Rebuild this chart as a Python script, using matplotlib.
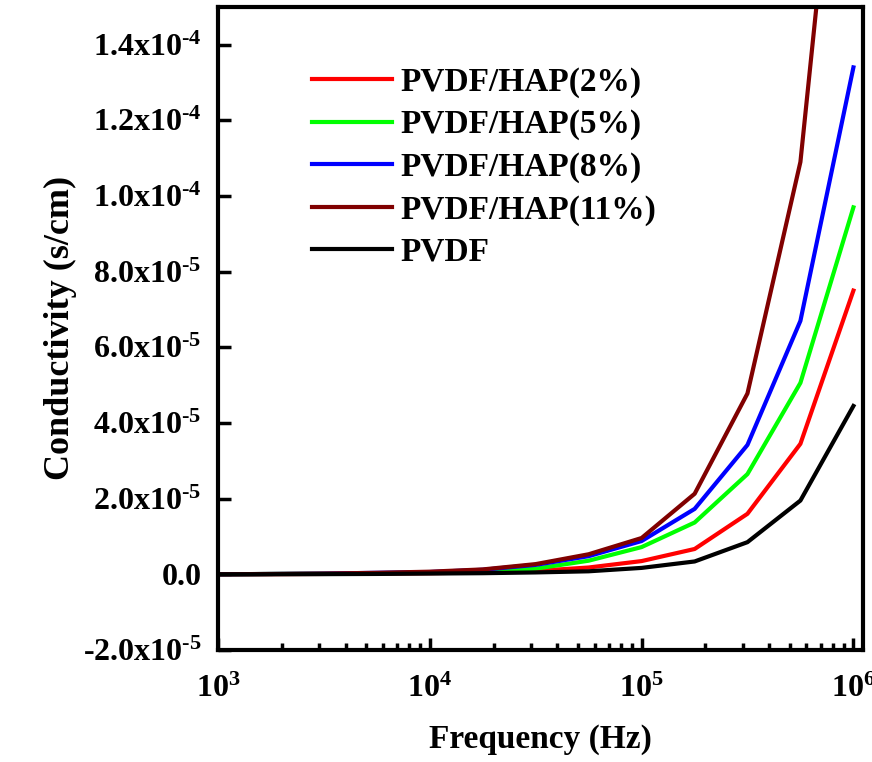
import matplotlib
matplotlib.use("Agg")
import matplotlib.pyplot as plt
from matplotlib.ticker import FixedLocator, LogLocator, NullFormatter

plt.rcParams["font.family"] = "Liberation Serif"
plt.rcParams["font.weight"] = "bold"
plt.rcParams["mathtext.fontset"] = "custom"
plt.rcParams["mathtext.rm"] = "Liberation Serif:bold"
plt.rcParams["mathtext.it"] = "Liberation Serif:bold"
plt.rcParams["mathtext.bf"] = "Liberation Serif:bold"

# frequency points (Hz)
freq = [1e3, 1.78e3, 3.16e3, 5.62e3, 1e4, 1.78e4, 3.16e4, 5.62e4,
        1e5, 1.78e5, 3.16e5, 5.62e5, 1e6]

# conductivity in units of 1e-5 s/cm
pvdf = [0.0, 0.0, 0.005, 0.01, 0.02, 0.03, 0.05, 0.08, 0.17, 0.34, 0.85, 1.95, 4.45]
hap2 = [0.0, 0.005, 0.01, 0.02, 0.03, 0.05, 0.09, 0.18, 0.35, 0.67, 1.6, 3.45, 7.5]
hap5 = [0.0, 0.01, 0.02, 0.03, 0.05, 0.08, 0.15, 0.36, 0.72, 1.37, 2.65, 5.06, 9.7]
hap8 = [0.0, 0.01, 0.02, 0.04, 0.06, 0.12, 0.25, 0.48, 0.88, 1.73, 3.42, 6.7, 13.4]
hap11 = [0.0, 0.01, 0.02, 0.04, 0.07, 0.13, 0.27, 0.53, 0.96, 2.13, 4.78, 10.9, 24.5]

labels = ["PVDF/HAP(2%)", "PVDF/HAP(5%)", "PVDF/HAP(8%)", "PVDF/HAP(11%)", "PVDF"]
colors = ["#ff0000", "#00ff00", "#0000ff", "#800000", "#000000"]
series = [hap2, hap5, hap8, hap11, pvdf]

ytick_vals = [-2.0e-5, 0.0, 2.0e-5, 4.0e-5, 6.0e-5, 8.0e-5, 1.0e-4, 1.2e-4, 1.4e-4]
ytick_labels = [r"$\mathregular{\text{-}2.0x10^{\text{-}5}}$", "0.0",
                r"$\mathregular{2.0x10^{\text{-}5}}$", r"$\mathregular{4.0x10^{\text{-}5}}$",
                r"$\mathregular{6.0x10^{\text{-}5}}$", r"$\mathregular{8.0x10^{\text{-}5}}$",
                r"$\mathregular{1.0x10^{\text{-}4}}$", r"$\mathregular{1.2x10^{\text{-}4}}$",
                r"$\mathregular{1.4x10^{\text{-}4}}$"]

fig = plt.figure(figsize=(8.72, 7.62), dpi=100)
ax = fig.add_axes([0.25, 0.147, 0.7397, 0.844])

handles = []
for vals, lab, col in zip(series, labels, colors):
    h, = ax.plot(freq, [v * 1e-5 for v in vals], color=col, lw=3.0, label=lab)
    handles.append(h)

ax.set_xscale("log")
ax.set_xlim(1e3, 1.11e6)
ax.set_ylim(-2.0e-5, 1.5e-4)

ax.yaxis.set_major_locator(FixedLocator(ytick_vals))
ax.set_yticklabels(ytick_labels)
ax.xaxis.set_major_locator(LogLocator(base=10, numticks=10))
ax.xaxis.set_minor_locator(LogLocator(base=10, subs=range(2, 10), numticks=10))
ax.xaxis.set_minor_formatter(NullFormatter())

ax.tick_params(axis="both", which="major", direction="in", length=9, width=2.5,
               labelsize=23)
ax.tick_params(axis="y", which="major", pad=12)
ax.tick_params(axis="x", which="major", pad=18)
ax.tick_params(axis="x", which="minor", direction="in", length=5, width=2.5)
for sp in ax.spines.values():
    sp.set_linewidth(3)

ax.set_xlabel("Frequency (Hz)", fontsize=24, fontweight="bold", labelpad=14)
ax.set_ylabel("Conductivity (s/cm)", fontsize=26, fontweight="bold", labelpad=4)

ax.legend(handles=handles, loc="upper left", bbox_to_anchor=(0.146, 0.907),
          frameon=False, handlelength=2.4, handletextpad=0.25,
          labelspacing=0.34, borderpad=0, borderaxespad=0,
          prop={"weight": "bold", "size": 24})

fig.savefig("out.png", dpi=100, facecolor="white")
